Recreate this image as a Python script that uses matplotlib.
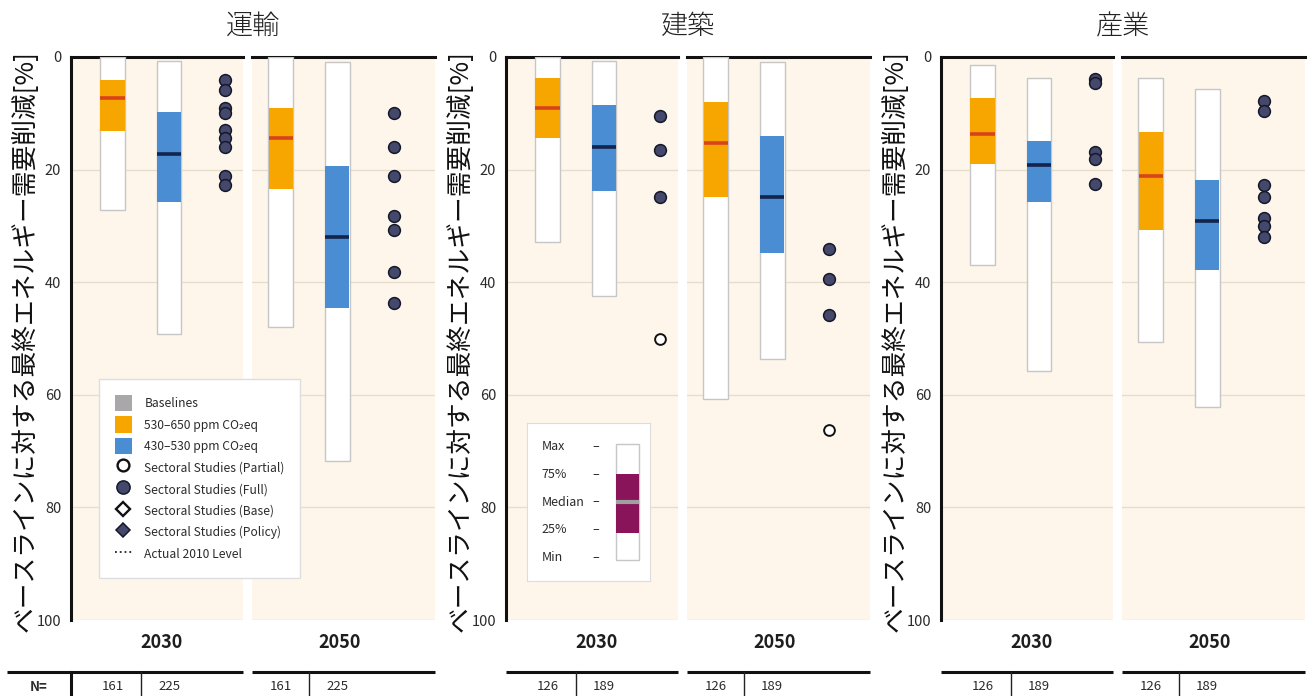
import matplotlib
matplotlib.use("Agg")
import matplotlib.pyplot as plt
import matplotlib.transforms as mtransforms
from matplotlib.patches import Patch
from matplotlib.lines import Line2D

plt.rcParams["font.family"] = ["Noto Sans CJK JP", "DejaVu Sans"]

# ---------------------------------------------------------------- data
sectors = ["運輸", "建築", "産業"]
years = ["2030", "2050"]
scenario_labels = ["530–650 ppm CO₂eq", "430–530 ppm CO₂eq"]
y_label = "ベースラインに対する最終エネルギー需要削減[%]"
y_ticks = [0, 20, 40, 60, 80, 100]

# N per scenario class (530–650, 430–530)
transport_n = [161, 225]
building_n = [126, 189]
industry_n = [126, 189]

# range summaries, % reduction: [range top, quartile top, median, quartile bottom, range bottom]
transport_650_2030 = [0.0, 4.1, 7.2, 13.1, 27.1]
transport_530_2030 = [0.7, 9.7, 17.2, 25.7, 49.2]
transport_650_2050 = [0.0, 9.0, 14.3, 23.4, 48.0]
transport_530_2050 = [0.8, 19.4, 32.0, 44.6, 71.8]

building_650_2030 = [0.0, 3.7, 9.1, 14.4, 32.9]
building_530_2030 = [0.7, 8.5, 15.9, 23.8, 42.5]
building_650_2050 = [0.0, 8.0, 15.2, 24.9, 60.8]
building_530_2050 = [0.8, 14.1, 24.8, 34.9, 53.7]

industry_650_2030 = [1.4, 7.3, 13.6, 19.0, 37.0]
industry_530_2030 = [3.7, 14.9, 19.1, 25.7, 55.7]
industry_650_2050 = [3.7, 13.4, 21.2, 30.7, 50.6]
industry_530_2050 = [5.7, 21.8, 29.2, 37.8, 62.2]

# sectoral studies, % reduction
transport_full_2030 = [4.1, 5.8, 9.1, 10.0, 12.9, 14.4, 15.9, 21.2, 22.7]
transport_full_2050 = [9.9, 15.9, 21.1, 28.2, 30.7, 38.2, 43.7]
transport_partial_2030 = []
transport_partial_2050 = []

building_full_2030 = [10.5, 16.5, 24.9]
building_full_2050 = [34.1, 39.4, 45.9]
building_partial_2030 = [50.1]
building_partial_2050 = [66.3]

industry_full_2030 = [3.9, 4.7, 16.8, 18.1, 22.6]
industry_full_2050 = [7.9, 9.6, 22.8, 24.8, 28.6, 30.1, 32.0]
industry_partial_2030 = []
industry_partial_2050 = []

sector_data = [
    dict(n=transport_n,
         ranges={"2030": [transport_650_2030, transport_530_2030],
                 "2050": [transport_650_2050, transport_530_2050]},
         full={"2030": transport_full_2030, "2050": transport_full_2050},
         partial={"2030": transport_partial_2030, "2050": transport_partial_2050}),
    dict(n=building_n,
         ranges={"2030": [building_650_2030, building_530_2030],
                 "2050": [building_650_2050, building_530_2050]},
         full={"2030": building_full_2030, "2050": building_full_2050},
         partial={"2030": building_partial_2030, "2050": building_partial_2050}),
    dict(n=industry_n,
         ranges={"2030": [industry_650_2030, industry_530_2030],
                 "2050": [industry_650_2050, industry_530_2050]},
         full={"2030": industry_full_2030, "2050": industry_full_2050},
         partial={"2030": industry_partial_2030, "2050": industry_partial_2050}),
]

# ---------------------------------------------------------------- style
CREAM = "#FEF6EA"
GRID = "#E7DDCC"
ORANGE = "#F7A600"
BLUE = "#4B8DD3"
ORANGE_MED = "#D8431C"
BLUE_MED = "#13244D"
DOT_FILL = "#44486A"
DOT_EDGE = "#15172A"
BASELINE_GRAY = "#A9A7AA"
KEY_PURPLE = "#8A1459"
TEXT = "#2B2B2B"
fill_colors = [ORANGE, BLUE]
median_colors = [ORANGE_MED, BLUE_MED]

BAR_W = 0.44
W, H = 1309, 696

fig = plt.figure(figsize=(W / 100, H / 100), dpi=100, facecolor="white")


def px_axes(left, top, right, bottom):
    return fig.add_axes([left / W, 1 - bottom / H, (right - left) / W, (bottom - top) / H])


def fy(px):
    return 1 - px / H


def draw_range(ax, x, stats, fill, med_color, width=BAR_W, med_lw=2.6):
    top, q_top, med, q_bot, bot = stats
    ax.bar(x, bot - top, bottom=top, width=width, color="white",
           edgecolor="#C6C6C6", linewidth=1.0, zorder=3)
    ax.bar(x, q_bot - q_top, bottom=q_top, width=width * 0.97, color=fill,
           linewidth=0, zorder=4)
    ax.hlines(med, x - width * 0.485, x + width * 0.485, color=med_color,
              linewidth=med_lw, zorder=5)


for g, (sector, sd) in enumerate(zip(sectors, sector_data)):
    x0 = 71 + 435 * g
    ax30 = px_axes(x0, 57, x0 + 172, 620)
    ax50 = px_axes(x0 + 181, 57, x0 + 364, 620)
    limits = {"2030": (-0.735, 2.31), "2050": (-0.51, 2.73)}
    year_pos = {"2030": 0.525, "2050": 0.48}

    for ax, year in zip((ax30, ax50), years):
        ax.set_facecolor(CREAM)
        ax.set_xlim(*limits[year])
        ax.set_ylim(100, 0)
        ax.set_yticks(y_ticks)
        ax.yaxis.grid(True, color=GRID, linewidth=1.0, zorder=0)
        ax.set_axisbelow(True)
        for side in ("right", "bottom"):
            ax.spines[side].set_visible(False)
        ax.spines["top"].set_linewidth(2.2)
        ax.spines["top"].set_color("#111111")
        ax.tick_params(axis="x", bottom=False, labelbottom=False)
        ax.tick_params(axis="y", length=0, pad=7, labelsize=10.5, labelcolor=TEXT)
        if year == "2030":
            ax.spines["left"].set_linewidth(2.2)
            ax.spines["left"].set_color("#111111")
        else:
            ax.spines["left"].set_visible(False)
            ax.tick_params(axis="y", labelleft=False)

        for i, stats in enumerate(sd["ranges"][year]):
            draw_range(ax, i, stats, fill_colors[i], median_colors[i])

        full = sd["full"][year]
        if full:
            ax.scatter([2] * len(full), full, s=72, color=DOT_FILL,
                       edgecolors=DOT_EDGE, linewidths=1.1, zorder=6, clip_on=False)
        partial = sd["partial"][year]
        if partial:
            ax.scatter([2] * len(partial), partial, s=60, facecolors="white",
                       edgecolors="#111111", linewidths=1.4, zorder=6, clip_on=False)

        # year label and N table below the panel
        tr_a = mtransforms.blended_transform_factory(ax.transAxes, fig.transFigure)
        tr_d = mtransforms.blended_transform_factory(ax.transData, fig.transFigure)
        ax.text(year_pos[year], fy(643), year, transform=tr_a, ha="center",
                va="center", fontsize=13, fontweight="bold", color="#1E1E1E")
        left_end = -0.372 if (g == 0 and year == "2030") else 0.0
        ax.plot([left_end, 1.0], [fy(672), fy(672)], transform=tr_a, clip_on=False,
                color="#111111", linewidth=2.2, solid_capstyle="butt")
        ax.plot([0.5, 0.5], [fy(672), fy(700)], transform=tr_d, clip_on=False,
                color="#222222", linewidth=1.0)
        for i, n in enumerate(sd["n"]):
            ax.text(i, fy(687), str(n), transform=tr_d, ha="center", va="center",
                    fontsize=9.5, color=TEXT)
        if g == 0 and year == "2030":
            ax.plot([0, 0], [fy(672), fy(700)], transform=tr_a, clip_on=False,
                    color="#111111", linewidth=2.2)
            ax.text(-0.19, fy(687), "N=", transform=tr_a, ha="center", va="center",
                    fontsize=9.5, color=TEXT, fontweight="bold")

    fig.text((x0 + 182) / W, fy(26), sector, ha="center", va="center",
             fontsize=19.5, fontweight="light", color="#222222")
    fig.text((25 + 435 * g) / W, fy(341), y_label, rotation=90, ha="center",
             va="center", fontsize=18.5, color="#111111")

# ---------------------------------------------------------------- scenario legend
handles = [
    Patch(facecolor=BASELINE_GRAY, edgecolor="none"),
    Patch(facecolor=ORANGE, edgecolor="none"),
    Patch(facecolor=BLUE, edgecolor="none"),
    Line2D([], [], ls="none", marker="o", ms=8.5, mfc="white", mec="#111111", mew=1.7),
    Line2D([], [], ls="none", marker="o", ms=9.5, mfc=DOT_FILL, mec=DOT_EDGE, mew=1.1),
    Line2D([], [], ls="none", marker="D", ms=7.5, mfc="white", mec="#111111", mew=1.7),
    Line2D([], [], ls="none", marker="D", ms=7.5, mfc=DOT_FILL, mec=DOT_EDGE, mew=1.1),
    Line2D([], [], ls=":", color="#222222", lw=1.3),
]
labels = ["Baselines"] + scenario_labels + [
    "Sectoral Studies (Partial)", "Sectoral Studies (Full)",
    "Sectoral Studies (Base)", "Sectoral Studies (Policy)", "Actual 2010 Level"]
leg = fig.legend(handles, labels, loc="upper left", bbox_to_anchor=(99 / W, fy(379)),
                 borderaxespad=0, fontsize=8.7, frameon=True, fancybox=False,
                 edgecolor="#DDDDDD", framealpha=1, borderpad=1.3,
                 handlelength=1.45, handleheight=1.75, handletextpad=1.0,
                 labelspacing=0.4, labelcolor=TEXT)
leg.get_frame().set_linewidth(1.0)

# ---------------------------------------------------------------- range key
key_ax = px_axes(527, 423, 650, 581)
key_ax.set_xlim(0, 1)
key_ax.set_ylim(4.84, -0.84)
key_ax.set_xticks([])
key_ax.set_yticks([])
key_ax.set_facecolor("white")
for sp in key_ax.spines.values():
    sp.set_color("#DDDDDD")
key_labels = ["Max", "75%", "Median", "25%", "Min"]
key_stats = [-0.08, 1.0, 2.0, 3.1, 4.08]
for i, lab in enumerate(key_labels):
    key_ax.text(0.12, i, lab, ha="left", va="center", fontsize=9, color=TEXT)
    key_ax.text(0.56, i, "–", ha="center", va="center", fontsize=9, color=TEXT)
draw_range(key_ax, 0.817, key_stats, KEY_PURPLE, "#A0A0A0", width=0.187, med_lw=3.0)

fig.savefig("out.png", dpi=100, facecolor="white")
